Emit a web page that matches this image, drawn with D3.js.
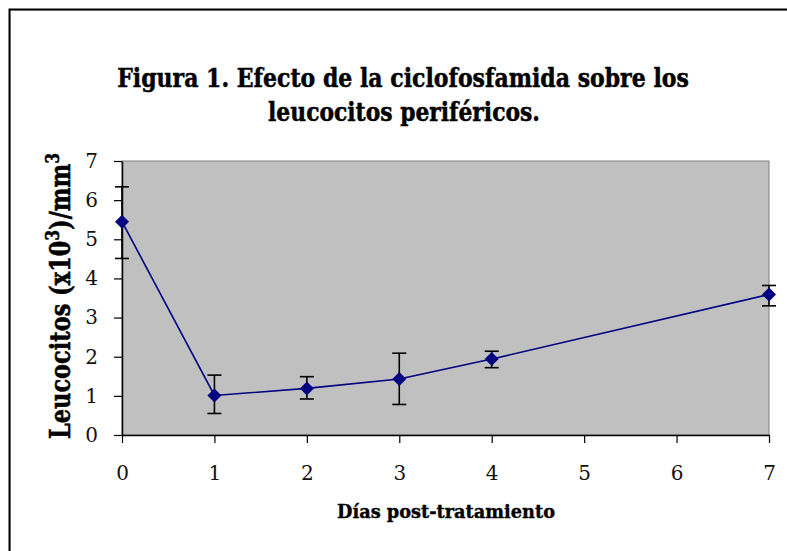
<!DOCTYPE html>
<html><head><meta charset="utf-8">
<script src="https://cdn.jsdelivr.net/npm/d3@7"></script>
<style>body{margin:0;background:#fff}svg{display:block}</style>
</head><body>
<script>
const days = [0, 1, 2, 3, 4, 7];
const means = [5.45, 1.01, 1.19, 1.43, 1.94, 3.59];
const upper = [6.34, 1.53, 1.49, 2.09, 2.14, 3.82];
const lower = [4.51, 0.55, 0.92, 0.78, 1.72, 3.30];
const xTicks = [0, 1, 2, 3, 4, 5, 6, 7];
const yTicks = [0, 1, 2, 3, 4, 5, 6, 7];
const titleLines = ["Figura 1. Efecto de la ciclofosfamida sobre los", "leucocitos periféricos."];
const xLabel = "Días post-tratamiento";

const W = 787, H = 551;
const svg = d3.select("body").append("svg").attr("width", W).attr("height", H);
svg.append("rect").attr("width", W).attr("height", H).attr("fill", "#fff");
// outer chart border
svg.append("rect").attr("x", 10.5).attr("y", 10.5).attr("width", W + 20).attr("height", H + 20)
  .attr("fill", "none").attr("stroke", "#c8c8c8").attr("stroke-width", 1);
svg.append("rect").attr("x", 9.5).attr("y", 9.5).attr("width", W + 20).attr("height", H + 20)
  .attr("fill", "none").attr("stroke", "#000").attr("stroke-width", 2);

const L = 122, R = 769, T = 161, B = 435;
const x = d3.scaleLinear().domain([0, 7]).range([L, R]);
const y = d3.scaleLinear().domain([0, 7]).range([B, T]);

svg.append("rect").attr("x", L).attr("y", T).attr("width", R - L).attr("height", B - T)
  .attr("fill", "#c0c0c0").attr("stroke", "#808080").attr("stroke-width", 1);

const serif = "'DejaVu Serif', serif";
const xAxis = svg.append("g").attr("transform", `translate(0,${B})`)
  .call(d3.axisBottom(x).tickValues(xTicks).tickFormat(d3.format("d")).tickSizeInner(8).tickSizeOuter(0).tickPadding(30));
const yAxis = svg.append("g").attr("transform", `translate(${L},0)`)
  .call(d3.axisLeft(y).tickValues(yTicks).tickFormat(d3.format("d")).tickSizeInner(8).tickSizeOuter(0).tickPadding(16));
[xAxis, yAxis].forEach(g => {
  g.select(".domain").attr("stroke", "#000").attr("stroke-width", 1.5);
  g.selectAll(".tick line").attr("stroke", "#000").attr("stroke-width", 1.2);
  g.selectAll(".tick text").attr("fill", "#111").style("font-family", serif).style("font-size", "20px");
});
xAxis.selectAll(".tick text").attr("dy", "0.35em");

// line
svg.append("path").datum(days.map((d, i) => [d, means[i]]))
  .attr("fill", "none").attr("stroke", "#000080").attr("stroke-width", 1.6)
  .attr("d", d3.line().x(d => x(d[0])).y(d => y(d[1])));

// error bars
const eb = svg.append("g").attr("stroke", "#000").attr("stroke-width", 1.6);
days.forEach((d, i) => {
  const cx = x(d);
  eb.append("line").attr("x1", cx).attr("x2", cx).attr("y1", y(lower[i])).attr("y2", y(upper[i]));
  eb.append("line").attr("x1", cx - 7).attr("x2", cx + 7).attr("y1", y(lower[i])).attr("y2", y(lower[i]));
  eb.append("line").attr("x1", cx - 7).attr("x2", cx + 7).attr("y1", y(upper[i])).attr("y2", y(upper[i]));
});

// markers
svg.append("g").selectAll("path").data(days).join("path")
  .attr("transform", (d, i) => `translate(${x(d)},${y(means[i])})`)
  .attr("d", "M0,-7L7,0L0,7L-7,0Z").attr("fill", "#000080");

// horizontally condensed text helper (scale instead of textLength)
function condensed(parent, cx, cy, str, size, target, sw) {
  const g = parent.append("g").attr("transform", `translate(${cx},${cy})`);
  const t = g.append("text").attr("text-anchor", "middle")
    .style("font-family", serif).style("font-weight", "bold").style("font-size", size + "px")
    .attr("fill", "#000").attr("stroke", "#000").attr("stroke-width", sw).text(str);
  const w = t.node().getComputedTextLength();
  t.attr("transform", `scale(${target / w},1)`);
  return g;
}
condensed(svg, 403, 87, titleLines[0], 26, 572, 0.5);
condensed(svg, 404, 121, titleLines[1], 26, 272, 0.5);
condensed(svg, 446, 518, xLabel, 19, 218, 0.4);

// y label
const yl = svg.append("text").attr("transform", "translate(70,296) rotate(-90)").attr("text-anchor", "middle")
  .style("font-family", serif).style("font-weight", "bold").style("font-size", "28px")
  .attr("stroke", "#000").attr("stroke-width", 0.6)
  .attr("textLength", 286).attr("lengthAdjust", "spacingAndGlyphs");
yl.append("tspan").text("Leucocitos (x10");
yl.append("tspan").attr("dy", -11).style("font-size", "19px").text("3");
yl.append("tspan").attr("dy", 11).text(")/mm");
yl.append("tspan").attr("dy", -11).style("font-size", "19px").text("3");
</script>
</body></html>
